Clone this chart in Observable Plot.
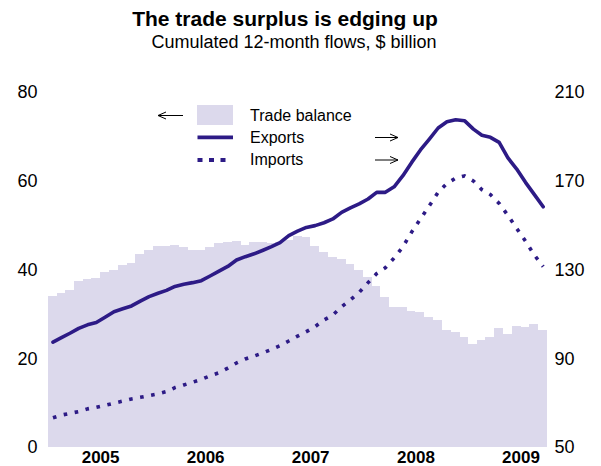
<!DOCTYPE html>
<html>
<head>
<meta charset="utf-8">
<script src="https://cdn.jsdelivr.net/npm/d3@7"></script>
<script src="https://cdn.jsdelivr.net/npm/@observablehq/plot@0.6"></script>
<style>
  body { margin: 0; background: #fff; font-family: "Liberation Sans", Arial, Helvetica, sans-serif; }
  #wrap { position: relative; width: 601px; height: 466px; overflow: hidden; }
  #head { position: relative; height: 55px; }
  .abs { position: absolute; white-space: nowrap; line-height: 1; }
  #title { font-weight: bold; font-size: 21px; top: 8px; left: 285px; transform: translateX(-50%); }
  #subtitle { font-size: 18px; top: 33px; left: 294px; transform: translateX(-50%); }
  .lg { font-size: 16px; transform: translateY(-50%); }
  svg { overflow: visible; }
</style>
</head>
<body>
<div id="wrap">
  <div id="head">
    <div id="title" class="abs">The trade surplus is edging up</div>
    <div id="subtitle" class="abs">Cumulated 12-month flows, $ billion</div>
  </div>
  <div id="chart"></div>
  <div id="legend"></div>
</div>
<script>
// ---- Data ----
const months = [
  "2005-01","2005-02","2005-03","2005-04","2005-05","2005-06","2005-07","2005-08","2005-09","2005-10","2005-11","2005-12",
  "2006-01","2006-02","2006-03","2006-04","2006-05","2006-06","2006-07","2006-08","2006-09","2006-10","2006-11","2006-12",
  "2007-01","2007-02","2007-03","2007-04","2007-05","2007-06","2007-07","2007-08","2007-09","2007-10","2007-11","2007-12",
  "2008-01","2008-02","2008-03","2008-04","2008-05","2008-06","2008-07","2008-08","2008-09","2008-10","2008-11","2008-12",
  "2009-01","2009-02","2009-03","2009-04","2009-05","2009-06","2009-07","2009-08","2009-09"
];
// Trade balance, $ billion (left axis)
const tradeBalance = [
  34.1, 34.8, 35.4, 37.5, 37.9, 38.0, 39.5, 39.9, 41.1, 41.5, 43.5, 44.4,
  45.2, 45.4, 45.6, 45.0, 44.5, 44.5, 45.0, 45.9, 46.2, 46.4, 45.6, 46.3,
  46.2, 45.9, 46.2, 46.6, 47.6, 47.3, 45.2, 44.0, 42.9, 42.4, 41.2, 39.9,
  38.3, 36.2, 33.9, 31.6, 31.6, 30.7, 30.5, 29.3, 28.6, 26.4, 25.9, 24.7,
  23.3, 24.1, 24.9, 26.9, 25.5, 27.3, 27.1, 27.7, 26.4
];
// Exports, $ billion (right axis)
const exportsV = [
  97.5, 99.5, 101.5, 103.7, 105.3, 106.3, 108.7, 111.2, 112.5, 113.8, 116.0, 118.0,
  119.5, 120.8, 122.6, 123.6, 124.3, 125.2, 127.3, 129.5, 131.6, 134.5, 136.0, 137.3,
  138.9, 140.5, 142.3, 145.5, 147.5, 149.2, 150.0, 151.3, 153.0, 156.0, 158.0, 159.8,
  162.0, 165.0, 165.0, 167.5, 172.5, 178.5, 184.1, 189.0, 194.0, 196.8, 197.7, 197.3,
  193.5, 190.7, 189.8, 187.5, 180.5, 175.5, 169.5, 164.0, 158.5
];
// Imports, $ billion (right axis)
const importsV = [
  63.4, 64.6, 65.4, 66.2, 67.4, 68.1, 69.0, 70.0, 70.9, 71.9, 72.6, 73.4,
  74.2, 75.2, 77.0, 78.2, 79.4, 80.7, 82.3, 83.7, 85.8, 88.1, 89.9, 91.2,
  92.7, 94.2, 95.9, 98.0, 100.2, 102.2, 104.5, 107.5, 109.7, 113.4, 116.5, 119.9,
  124.3, 128.4, 131.0, 135.4, 140.5, 147.1, 153.0, 159.0, 165.0, 169.0, 171.4, 172.4,
  170.1, 166.2, 164.0, 160.0, 154.6, 148.7, 143.0, 136.7, 131.5
];
const leftTicks = [0, 20, 40, 60, 80];
const rightTicks = [50, 90, 130, 170, 210];
const yearLabels = ["2005", "2006", "2007", "2008", "2009"];

// ---- Build table ----
const parse = d3.utcParse("%Y-%m");
const data = months.map((m, i) => {
  const start = parse(m);
  const end = d3.utcMonth.offset(start, 1);
  return { start, end, mid: new Date((+start + +end) / 2),
           tb: tradeBalance[i], exp: exportsV[i], imp: importsV[i] };
});
// right axis (50..210) shares the pixel range of the left axis (0..80)
const rLo = rightTicks[0], rHi = rightTicks[rightTicks.length - 1];
const lLo = leftTicks[0], lHi = leftTicks[leftTicks.length - 1];
const toLeft = v => lLo + (v - rLo) * (lHi - lLo) / (rHi - rLo);
const toRight = v => rLo + (v - lLo) * (rHi - rLo) / (lHi - lLo);
const yearTickDates = yearLabels.map(y => new Date(Date.UTC(+y, 6, 1)));

const ink = "#2d1b86";
const barFill = "#dcd9ec";

const chart = Plot.plot({
  width: 601,
  height: 411,
  marginTop: 37,
  marginBottom: 19,
  marginLeft: 48,
  marginRight: 54,
  x: { type: "utc", domain: [data[0].start, data[data.length - 1].end] },
  y: { domain: [lLo, lHi] },
  style: { fontFamily: "Liberation Sans, Arial, Helvetica, sans-serif", fontSize: "18px", color: "#000", background: "#fff" },
  marks: [
    Plot.rectY(data, { x1: "start", x2: "end", y: "tb", fill: barFill, shapeRendering: "crispEdges" }),
    Plot.lineY(data, { x: "mid", y: d => toLeft(d.imp), stroke: ink, strokeWidth: 3.6,
                       strokeDasharray: "3.6,7.6", strokeLinecap: "butt" }),
    Plot.lineY(data, { x: "mid", y: d => toLeft(d.exp), stroke: ink, strokeWidth: 3.6 }),
    Plot.axisY(leftTicks, { anchor: "left", tickSize: 0, tickPadding: 11, label: null, fontSize: 18 }),
    Plot.axisY(rightTicks.map(toLeft), { anchor: "right", tickSize: 0, tickPadding: 7, label: null,
                                        fontSize: 18, tickFormat: d => String(Math.round(toRight(d))) }),
    Plot.axisX(yearTickDates, { anchor: "bottom", tickSize: 0, tickPadding: 3, label: null,
                                fontSize: 17, fontWeight: "bold", tickFormat: d3.utcFormat("%Y") })
  ]
});
document.getElementById("chart").appendChild(chart);

// ---- Legend (overlay) ----
const legend = document.getElementById("legend");
legend.innerHTML = `
  <svg width="601" height="466" style="position:absolute;left:0;top:0;pointer-events:none">
    <g stroke="#000" stroke-width="1" fill="none">
      <path d="M158,115.5 H183 M158,115.5 L166,112 M158,115.5 L166,119"/>
      <path d="M375,137.5 H398 M398,137.5 L390,134 M398,137.5 L390,141"/>
      <path d="M375,160 H398 M398,160 L390,156.5 M398,160 L390,163.5"/>
    </g>
    <rect x="197" y="105" width="36" height="20" fill="${barFill}"/>
    <line x1="197.5" x2="233" y1="137.3" y2="137.3" stroke="${ink}" stroke-width="3.8"/>
    <line x1="197.5" x2="226" y1="160" y2="160" stroke="${ink}" stroke-width="4" stroke-dasharray="5,6.5"/>
  </svg>
  <div class="abs lg" style="left:250px;top:115.7px">Trade balance</div>
  <div class="abs lg" style="left:250px;top:137.7px">Exports</div>
  <div class="abs lg" style="left:250px;top:160px">Imports</div>
`;
</script>
</body>
</html>
